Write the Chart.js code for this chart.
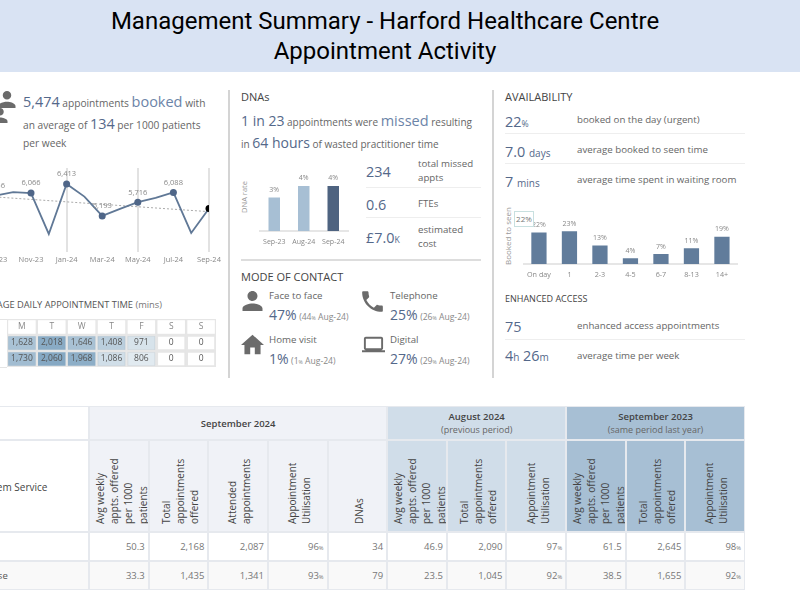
<!DOCTYPE html>
<html>
<head>
<meta charset="utf-8">
<title>Management Summary</title>
<script src="https://cdn.jsdelivr.net/npm/chart.js@4"></script>
<style>
html, body { margin: 0; padding: 0; background: #fff; overflow: hidden; }
body { width: 800px; height: 600px; position: relative; font-family: "Open Sans", sans-serif; color: #666; }
.banner { position: absolute; left: 0; top: 0; width: 800px; height: 72px; background: #d9e3f3; }
.title { position: absolute; left: 0; width: 770px; text-align: center; color: #000; font-family: Roboto, sans-serif; font-size: 24px; line-height: 30px; }
.t { position: absolute; white-space: nowrap; transform: translateY(-50%); font-size: 9.7px; font-weight: 500; color: #666; }
.head { font-size: 11px; font-weight: 500; color: #444; }
.big { font-size: 14px; font-weight: 500; color: #54688a; }
.kpi { font-size: 14.4px; font-weight: 500; color: #54688a; }
.soft { font-size: 14.5px; font-weight: 400; color: #6c84a8; }
.small { font-size: 8.6px; font-weight: 400; color: #888; }
.tiny { font-size: 60%; }
.sub { font-size: 10px; }
.vline { position: absolute; top: 90px; height: 288px; width: 2px; background: #d4d4d4; }
.hline { position: absolute; height: 1px; background: #eee; }
.axt { position: absolute; transform: translate(-50%, -50%) rotate(-90deg); white-space: nowrap; color: #999; }
.tip { position: absolute; left: 514px; top: 211px; width: 18px; height: 14px; border: 1px solid #c8e0e0; background: #fff; color: #777; font-size: 8px; line-height: 14px; text-align: center; }
canvas { position: absolute; }
svg { position: absolute; fill: #6b6b6b; }
table { position: absolute; left: -40px; top: 406px; border-collapse: separate; border-spacing: 0; table-layout: fixed; width: 785px; font-size: 9.5px; }
th, td { border: 1px solid #e6e9ee; padding: 0; overflow: hidden; }
td.num { text-align: right; padding-right: 3px; color: #777; }
td.name { text-align: left; padding-left: 20px; color: #555; white-space: nowrap; }
th { font-weight: 600; color: #444; }
th small { display: block; font-weight: 400; color: #666; font-size: 9px; }
.rot { display: inline-block; writing-mode: vertical-rl; transform: rotate(180deg); white-space: pre; text-align: left; line-height: 14.2px; font-size: 10px; font-weight: 400; color: #444; height: 83px; vertical-align: bottom; margin-left: 3px; }
.sep { background: #f0f2f7; }
.aug { background: #d0dde9; }
.lst { background: #a7bfd4; }
</style>
</head>
<body>
<div class="banner"></div>
<div class="title" style="top:6px">Management Summary - Harford Healthcare Centre</div>
<div class="title" style="top:36px">Appointment Activity</div>

<div class="vline" style="left:228px"></div>
<div class="vline" style="left:492px"></div>
<div class="hline" style="left:241px;top:259px;width:240px;height:2px;background:#ddd"></div>

<!-- booked -->
<svg style="left:-3px;top:91px" width="20" height="17" viewBox="4 4 16 16"><path d="M12 12c2.21 0 4-1.79 4-4s-1.79-4-4-4-4 1.79-4 4 1.79 4 4 4zm0 2c-2.67 0-8 1.34-8 4v2h16v-2c0-2.66-5.33-4-8-4z"/></svg>
<svg style="left:-10px;top:108px" width="20" height="15" viewBox="4 4 16 16"><path d="M12 12c2.21 0 4-1.79 4-4s-1.79-4-4-4-4 1.79-4 4 1.79 4 4 4zm0 2c-2.67 0-8 1.34-8 4v2h16v-2c0-2.66-5.33-4-8-4z"/></svg>
<div class="t" style="left:23px;top:101px;font-size:10.2px"><span class="kpi">5,474</span> appointments <span class="soft">booked</span> with</div>
<div class="t" style="left:23px;top:123px;font-size:10.2px">an average of <span class="kpi">134</span> per 1000 patients</div>
<div class="t" style="left:23px;top:143px;font-size:10.2px">per week</div>
<canvas id="lineChart" width="260" height="114" style="left:-30px;top:158px"></canvas>

<div class="t" style="right:638px;top:304px;font-size:9.3px;color:#555">AVERAGE DAILY APPOINTMENT TIME <span style="font-weight:400;color:#777">(mins)</span></div>
<div class="hline" style="left:0;top:319px;width:7px;background:#e4e4e4"></div>
<div class="hline" style="left:0;top:367px;width:7px;background:#e4e4e4"></div>
<canvas id="heatChart" width="225" height="52" style="left:0;top:317px"></canvas>

<!-- DNAs -->
<div class="t head" style="left:241px;top:96px">DNAs</div>
<div class="t" style="left:241px;top:120px;font-size:10px"><span class="big">1 in 23</span> appointments were <span class="soft">missed</span> resulting</div>
<div class="t" style="left:241px;top:142px;font-size:10px">in <span class="big">64 hours</span> of wasted practitioner time</div>
<div class="axt" style="left:244px;top:197px;font-size:7.5px">DNA rate</div>
<canvas id="dnaChart" width="130" height="88" style="left:230px;top:165px"></canvas>
<div class="t kpi" style="left:366px;top:171px">234</div>
<div class="t" style="left:418px;top:163px">total missed</div>
<div class="t" style="left:418px;top:177px">appts</div>
<div class="hline" style="left:366px;top:187px;width:115px"></div>
<div class="t kpi" style="left:366px;top:204px">0.6</div>
<div class="t" style="left:418px;top:203px">FTEs</div>
<div class="hline" style="left:366px;top:217px;width:115px"></div>
<div class="t kpi" style="left:366px;top:237px">£7.0<span class="tiny">K</span></div>
<div class="t" style="left:418px;top:229px">estimated</div>
<div class="t" style="left:418px;top:243px">cost</div>

<!-- mode of contact -->
<div class="t head" style="left:241px;top:276px">MODE OF CONTACT</div>
<svg style="left:242px;top:291px" width="21" height="20" viewBox="4 4 16 16"><path d="M12 12c2.21 0 4-1.79 4-4s-1.79-4-4-4-4 1.79-4 4 1.79 4 4 4zm0 2c-2.67 0-8 1.34-8 4v2h16v-2c0-2.66-5.33-4-8-4z"/></svg>
<div class="t" style="left:269px;top:295px">Face to face</div>
<div class="t" style="left:269px;top:314px"><span class="big">47%</span> <span class="small">(44<span class="tiny">%</span> Aug-24)</span></div>
<svg style="left:361px;top:290px" width="23" height="23" viewBox="2 2 20 20"><path d="M6.62 10.79c1.44 2.83 3.76 5.14 6.59 6.59l2.2-2.2c.27-.27.67-.36 1.02-.24 1.12.37 2.33.57 3.57.57.55 0 1 .45 1 1V20c0 .55-.45 1-1 1-9.39 0-17-7.61-17-17 0-.55.45-1 1-1h3.5c.55 0 1 .45 1 1 0 1.25.2 2.45.57 3.57.11.35.03.74-.25 1.02l-2.2 2.2z"/></svg>
<div class="t" style="left:390px;top:295px">Telephone</div>
<div class="t" style="left:390px;top:314px"><span class="big">25%</span> <span class="small">(26<span class="tiny">%</span> Aug-24)</span></div>
<svg style="left:241px;top:334px" width="23" height="21" viewBox="2 3 20 17"><path d="M10 20v-6h4v6h5v-8h3L12 3 2 12h3v8z"/></svg>
<div class="t" style="left:269px;top:339px">Home visit</div>
<div class="t" style="left:269px;top:358px"><span class="big">1%</span> <span class="small">(1<span class="tiny">%</span> Aug-24)</span></div>
<svg style="left:362px;top:335px" width="23" height="19" viewBox="0 4 24 16"><path d="M20 18c1.1 0 1.99-.9 1.99-2L22 6c0-1.1-.9-2-2-2H4c-1.1 0-2 .9-2 2v10c0 1.1.9 2 2 2H0v2h24v-2h-4zM4 6h16v10H4V6z"/></svg>
<div class="t" style="left:390px;top:339px">Digital</div>
<div class="t" style="left:390px;top:358px"><span class="big">27%</span> <span class="small">(29<span class="tiny">%</span> Aug-24)</span></div>

<!-- availability -->
<div class="t head" style="left:505px;top:96px">AVAILABILITY</div>
<div class="t kpi" style="left:505px;top:121px">22<span class="tiny">%</span></div>
<div class="t" style="left:577px;top:119px">booked on the day (urgent)</div>
<div class="hline" style="left:505px;top:133px;width:240px"></div>
<div class="t kpi" style="left:505px;top:151px">7.0 <span class="sub">days</span></div>
<div class="t" style="left:577px;top:149px">average booked to seen time</div>
<div class="hline" style="left:505px;top:163px;width:240px"></div>
<div class="t kpi" style="left:505px;top:181px">7 <span class="sub">mins</span></div>
<div class="t" style="left:577px;top:179px">average time spent in waiting room</div>
<div class="axt" style="left:507px;top:236px;font-size:8px">Booked to seen</div>
<canvas id="waitChart" width="245" height="81" style="left:500px;top:205px"></canvas>
<div class="tip">22%</div>
<div class="t head" style="left:505px;top:298px;font-size:9px">ENHANCED ACCESS</div>
<div class="t kpi" style="left:505px;top:326px">75</div>
<div class="t" style="left:577px;top:325px">enhanced access appointments</div>
<div class="hline" style="left:505px;top:339px;width:240px"></div>
<div class="t kpi" style="left:505px;top:355px">4<span class="sub">h</span> 26<span class="sub">m</span></div>
<div class="t" style="left:577px;top:355px">average time per week</div>

<table id="summary"></table>

<script>
// monthly appointments
const months = ['Sep-23', 'Oct-23', 'Nov-23', 'Dec-23', 'Jan-24', 'Feb-24', 'Mar-24', 'Apr-24', 'May-24', 'Jun-24', 'Jul-24', 'Aug-24', 'Sep-24'];
const booked = [5966, 6100, 6066, 4507, 6413, 5930, 5193, 5460, 5716, 5880, 6088, 4545, 5474];
const bookedLabels = ['5,966', '', '6,066', '', '6,413', '', '5,193', '', '5,716', '', '6,088', '', ''];
const bookedTrend = [5917, null, null, null, null, null, null, null, null, null, null, null, 5357];

// daily appointment time
const heatDays = ['M', 'T', 'W', 'T', 'F', 'S', 'S'];
const heatRow1 = [1628, 2018, 1646, 1408, 971, 0, 0];
const heatRow2 = [1730, 2060, 1968, 1086, 806, 0, 0];

// DNA rate
const dnaPeriods = ['Sep-23', 'Aug-24', 'Sep-24'];
const dnaRates = [3.2, 4.3, 4.3];
const dnaLabels = ['3%', '4%', '4%'];

// booked to seen
const waitBands = ['On day', '1', '2-3', '4-5', '6-7', '8-13', '14+'];
const waitShares = [22, 23, 13, 4, 7, 11, 19];

// summary table
const tableServices = ['GP', 'Nurse'];
const tableGroups = ['September 2024', 'August 2024', 'September 2023'];
const tableGroupNotes = ['', '(previous period)', '(same period last year)'];
const tableHeaders = [
    'Avg weekly\nappts. offered\nper 1000\npatients', 'Total\nappointments\noffered', 'Attended\nappointments', 'Appointment\nUtilisation', 'DNAs',
    'Avg weekly\nappts. offered\nper 1000\npatients', 'Total\nappointments\noffered', 'Appointment\nUtilisation',
    'Avg weekly\nappts. offered\nper 1000\npatients', 'Total\nappointments\noffered', 'Appointment\nUtilisation'
];
const tableRow1 = ['50.3', '2,168', '2,087', '96%', '34', '46.9', '2,090', '97%', '61.5', '2,645', '98%'];
const tableRow2 = ['33.3', '1,435', '1,341', '93%', '79', '23.5', '1,045', '92%', '38.5', '1,655', '92%'];

Chart.defaults.font.family = '"Open Sans", sans-serif';
Chart.defaults.animation = false;
Chart.defaults.responsive = false;
Chart.defaults.plugins.legend.display = false;
Chart.defaults.plugins.tooltip.enabled = false;

function heatColour(v) {
    const a = Math.pow(v / 2060, 1.5);
    return `rgba(133,168,195,${a})`;
}

// draws text above the points/bars, chart.js has no data labels of its own
function topLabels(texts, colour, size, gap) {
    return {
        id: 'topLabels',
        afterDatasetsDraw(chart) {
            const ctx = chart.ctx;
            const meta = chart.getDatasetMeta(0);
            ctx.save();
            ctx.font = `${size}px "Open Sans"`;
            ctx.textAlign = 'center';
            ctx.textBaseline = 'bottom';
            texts.forEach((txt, i) => {
                ctx.fillStyle = colour;
                ctx.fillText(txt, meta.data[i].x, meta.data[i].y - gap);
            });
            ctx.restore();
        }
    };
}

new Chart(document.getElementById('lineChart'), {
    type: 'line',
    data: {
        labels: months,
        datasets: [
            {
                data: booked,
                borderColor: '#607896',
                borderWidth: 1.8,
                tension: 0,
                pointRadius: booked.map((v, i) => i % 2 === 0 ? 3.5 : 0),
                pointBackgroundColor: booked.map((v, i) => i === booked.length - 1 ? '#000' : '#4f6688'),
                pointBorderWidth: 0,
                clip: { left: false, top: false, bottom: false, right: 0 }
            },
            {
                data: bookedTrend,
                spanGaps: true,
                borderColor: '#aaa',
                borderWidth: 1,
                borderDash: [2, 2],
                pointRadius: 0
            }
        ]
    },
    options: {
        layout: { padding: { left: 25.4, right: 21, top: 10, bottom: 0 } },
        scales: {
            y: { display: false, min: 3820, max: 7020 },
            x: {
                afterFit: s => { s.height = 20; },
                border: { display: false },
                grid: {
                    lineWidth: 2,
                    drawTicks: false,
                    color: c => c.index % 2 === 0 ? '#e2e2e2' : 'transparent'
                },
                ticks: {
                    autoSkip: false,
                    maxRotation: 0,
                    padding: 3,
                    color: '#888',
                    font: { size: 7.5 },
                    callback: function (v, i) { return i % 2 === 0 ? this.getLabelForValue(v) : null; }
                }
            }
        }
    },
    plugins: [topLabels(bookedLabels, '#888', 7.5, 6)]
});

function heatDataset(values, from, to) {
    return {
        data: values.map(() => [from, to]),
        cellText: values.map(v => v.toLocaleString('en-GB')),
        backgroundColor: values.map(heatColour),
        borderColor: '#e6e6e6',
        borderWidth: 1.5,
        borderSkipped: false,
        barPercentage: 1,
        categoryPercentage: 1,
        grouped: false
    };
}

const heatHeader = heatDataset(heatRow1, 2, 3);
heatHeader.cellText = heatDays;
heatHeader.backgroundColor = '#fff';
heatHeader.textColour = '#888';

new Chart(document.getElementById('heatChart'), {
    type: 'bar',
    data: {
        labels: heatDays,
        datasets: [heatHeader, heatDataset(heatRow1, 1, 2), heatDataset(heatRow2, 0, 1)]
    },
    options: {
        layout: { padding: { left: 7, right: 9, top: 2, bottom: 2 } },
        scales: {
            x: { display: false },
            y: { display: false, min: 0, max: 3 }
        }
    },
    plugins: [{
        id: 'cellText',
        afterDatasetsDraw(chart) {
            const ctx = chart.ctx;
            ctx.save();
            ctx.font = '8.5px "Open Sans"';
            ctx.textAlign = 'center';
            ctx.textBaseline = 'middle';
            chart.data.datasets.forEach((ds, d) => {
                chart.getDatasetMeta(d).data.forEach((bar, i) => {
                    ctx.fillStyle = ds.textColour || '#555';
                    ctx.fillText(ds.cellText[i], bar.x, (bar.y + bar.base) / 2);
                });
            });
            ctx.restore();
        }
    }]
});

function smallBars(id, labels, values, colours, barShare, maxY, pad, valueTexts, tickSize) {
    new Chart(document.getElementById(id), {
        type: 'bar',
        data: {
            labels: labels,
            datasets: [{ data: values, backgroundColor: colours, barPercentage: barShare, categoryPercentage: 1 }]
        },
        options: {
            layout: { padding: pad },
            scales: {
                y: { display: false, min: 0, max: maxY },
                x: {
                    afterFit: s => { s.height = 22; },
                    border: { color: '#e6e6e6', width: 2 },
                    grid: { display: false, drawTicks: false },
                    ticks: { maxRotation: 0, autoSkip: false, padding: 7, color: '#888', font: { size: tickSize } }
                }
            }
        },
        plugins: [topLabels(valueTexts, '#888', 7, 4)]
    });
}

smallBars('dnaChart', dnaPeriods, dnaRates, ['#a7bfd4', '#a7bfd4', '#4e6380'], 0.39, 5.35,
    { left: 29.5, right: 12, top: 10, bottom: 0 }, dnaLabels, 7);
smallBars('waitChart', waitBands, waitShares, '#617c9b', 0.5, 31.5,
    { left: 23.7, right: 7.8, top: 14, bottom: 0 }, waitShares.map(v => v + '%'), 7.2);

// table is plain html, built from the arrays
function pct(s) {
    return s.replace('%', '<span style="font-size:60%">%</span>');
}

function buildTable() {
    let html = '<colgroup><col style="width:129px">';
    tableHeaders.forEach(() => { html += '<col style="width:59.6px">'; });
    html += '</colgroup>';
    const groupClass = ['sep', 'aug', 'lst'];
    const groupSpan = [5, 3, 3];
    html += '<tr style="height:34px"><th style="background:#fff"></th>';
    tableGroups.forEach((g, i) => {
        const note = tableGroupNotes[i] ? `<small>${tableGroupNotes[i]}</small>` : '';
        html += `<th colspan="${groupSpan[i]}" class="${groupClass[i]}">${g}${note}</th>`;
    });
    html += '</tr><tr style="height:90px"><td class="name" style="padding-left:17px;font-weight:500;color:#444;font-size:10px;padding-top:2px">System Service</td>';
    tableHeaders.forEach((h, i) => {
        const cls = i < 5 ? 'sep' : i < 8 ? 'aug' : 'lst';
        html += `<th class="${cls}" style="vertical-align:bottom;padding-bottom:7px"><span class="rot">${h}</span></th>`;
    });
    html += '</tr>';
    [tableRow1, tableRow2].forEach((row, r) => {
        const bg = r === 1 ? 'background:#f9f9f9' : '';
        html += `<tr style="height:29px;${bg}"><td class="name">${tableServices[r]}</td>`;
        row.forEach(v => { html += `<td class="num">${pct(v)}</td>`; });
        html += '</tr>';
    });
    document.getElementById('summary').innerHTML = html;
}

buildTable();
</script>
</body>
</html>
